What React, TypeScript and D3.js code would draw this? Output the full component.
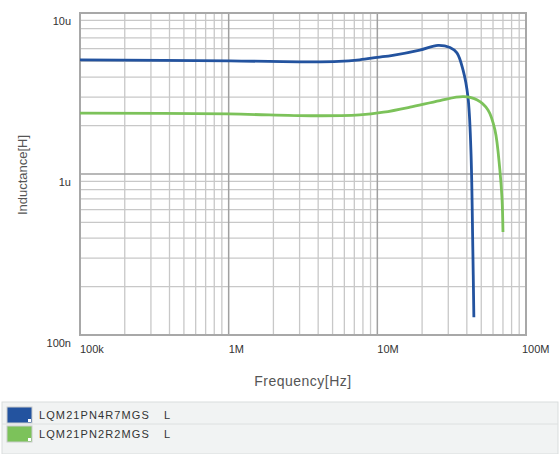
import React from "react";
import * as d3 from "d3";

const xTickValues = [1e5, 1e6, 1e7, 1e8];
const xTickLabels = ["100k", "1M", "10M", "100M"];
const yTickValues = [1e-7, 1e-6, 1e-5];
const yTickLabels = ["100n", "1u", "10u"];

const seriesNames = ["LQM21PN4R7MGS", "LQM21PN2R2MGS"];
const seriesSuffix = ["L", "L"];
const seriesColors = ["#23539f", "#7cc25a"];

const blueFreq = [1e5, 1.02e6, 3.57e6, 5.5e6, 7.6e6, 10e6, 12.7e6, 19.3e6, 25.6e6, 30.8e6, 34.3e6, 37.7e6, 40.7e6, 42.6e6, 43.9e6, 44.6e6];
const blueL = [5.11e-6, 5.04e-6, 4.97e-6, 5.0e-6, 5.12e-6, 5.3e-6, 5.46e-6, 5.89e-6, 6.3e-6, 6.1e-6, 5.65e-6, 4.43e-6, 3.01e-6, 1.41e-6, 0.337e-6, 0.129e-6];

const greenFreq = [1e5, 1e6, 3.57e6, 7.6e6, 11e6, 16.6e6, 26.4e6, 38e6, 47e6, 55.5e6, 61.8e6, 66.7e6, 69e6, 70e6];
const greenL = [2.39e-6, 2.36e-6, 2.3e-6, 2.33e-6, 2.42e-6, 2.6e-6, 2.86e-6, 3.02e-6, 2.88e-6, 2.5e-6, 1.88e-6, 1.06e-6, 0.7e-6, 0.436e-6];

const W = 560;
const H = 454;
const m = { left: 80, top: 13, right: 526, bottom: 335 };

export default function App() {
  const x = d3.scaleLog().domain([1e5, 1e8]).range([m.left, m.right]);
  const y = d3.scaleLog().domain([1e-7, 1e-5]).range([m.bottom, m.top]);

  const xMinor: number[] = [];
  for (let d = 1e5; d < 1e8; d *= 10) for (let k = 2; k <= 9; k++) xMinor.push(d * k);
  const yMinor: number[] = [];
  for (let d = 1e-7; d < 1e-5 * 0.99; d *= 10) for (let k = 2; k <= 9; k++) yMinor.push(d * k);

  const line = d3
    .line<[number, number]>()
    .x((d) => x(d[0]))
    .y((d) => y(d[1]))
    .curve(d3.curveCatmullRom.alpha(0.5));

  const series = [
    blueFreq.map((f, i) => [f, blueL[i]] as [number, number]),
    greenFreq.map((f, i) => [f, greenL[i]] as [number, number]),
  ];

  const font = "'Liberation Sans', Arial, sans-serif";

  return (
    <svg width={W} height={H} style={{ position: "absolute", left: 0, top: 0 }}>
      <rect x={0} y={0} width={W} height={H} fill="#fff" />
      {xMinor.map((v, i) => (
        <line key={"xm" + i} x1={x(v)} x2={x(v)} y1={m.top} y2={m.bottom} stroke="#c8c8c8" strokeWidth={1.3} />
      ))}
      {yMinor.map((v, i) => (
        <line key={"ym" + i} x1={m.left} x2={m.right} y1={y(v)} y2={y(v)} stroke="#c8c8c8" strokeWidth={1.3} />
      ))}
      {xTickValues.map((v, i) => (
        <line key={"xM" + i} x1={x(v)} x2={x(v)} y1={m.top} y2={m.bottom} stroke="#a0a0a0" strokeWidth={1.5} />
      ))}
      {yTickValues.map((v, i) => (
        <line key={"yM" + i} x1={m.left} x2={m.right} y1={y(v)} y2={y(v)} stroke="#a0a0a0" strokeWidth={1.5} />
      ))}
      <rect x={m.left} y={m.top} width={m.right - m.left} height={m.bottom - m.top} fill="none" stroke="#a8a8a8" strokeWidth={2} />

      {series.map((s, i) => (
        <path key={"s" + i} d={line(s) || ""} fill="none" stroke={seriesColors[i]} strokeWidth={2.8} strokeLinejoin="round" />
      ))}

      {xTickValues.map((v, i) => (
        <text key={"xl" + i} x={x(v) - (i === 3 ? 4 : 0)} y={353} fontSize={11} fontFamily={font} fill="#333" textAnchor="start">
          {xTickLabels[i]}
        </text>
      ))}
      {yTickValues.map((v, i) => (
        <text key={"yl" + i} x={71} y={y(v) + 12} fontSize={11} fontFamily={font} fill="#333" textAnchor="end">
          {yTickLabels[i]}
        </text>
      ))}

      <text x={303} y={386} fontSize={14} fontFamily={font} fill="#555" textAnchor="middle" letterSpacing={0.5}>
        Frequency[Hz]
      </text>
      <text transform="translate(27,175) rotate(-90)" fontSize={13} fontFamily={font} fill="#555" textAnchor="middle">
        Inductance[H]
      </text>

      <rect x={2} y={402} width={W - 4} height={52} fill="#f1f3f3" stroke="#d9dddd" />
      {seriesNames.map((n, i) => {
        const cy = 415 + i * 19;
        return (
          <g key={"lg" + i}>
            {i === 1 && <line x1={2} x2={W - 2} y1={cy - 10} y2={cy - 10} stroke="#dde0e0" />}
            <rect x={7} y={cy - 8} width={25} height={16} fill={seriesColors[i]} stroke="#c9cccc" />
            <rect x={28} y={cy + 4} width={3} height={3} fill="#fff" />
            <text x={39} y={cy + 4} fontSize={11} fontFamily={font} fill="#333" letterSpacing={1.1}>
              {n}
            </text>
            <text x={164} y={cy + 4} fontSize={11} fontFamily={font} fill="#333">
              {seriesSuffix[i]}
            </text>
          </g>
        );
      })}
    </svg>
  );
}
